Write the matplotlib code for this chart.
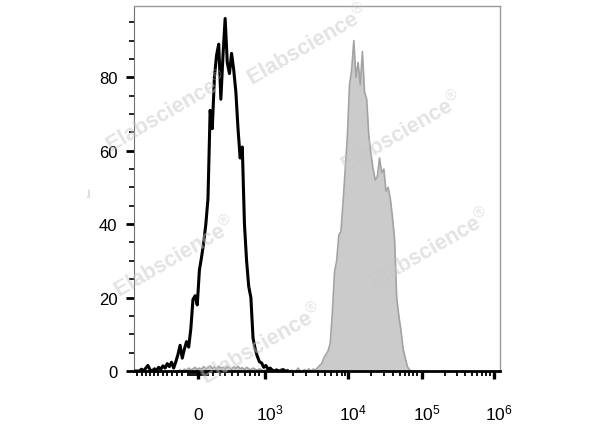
import numpy as np
import matplotlib
matplotlib.use("Agg")
import matplotlib.pyplot as plt
import matplotlib.transforms as mtransforms

plt.rcParams['font.family'] = ['Liberation Sans', 'DejaVu Sans']
plt.rcParams['mathtext.fontset'] = 'custom'
plt.rcParams['mathtext.rm'] = 'Liberation Sans'
plt.rcParams['mathtext.it'] = 'Liberation Sans:italic'
plt.rcParams['mathtext.bf'] = 'Liberation Sans:bold'

# display channels (0-1024) of the biexponential axis
bin_width = 6
iso_start = 0      # unstained / isotype control (black line)
iso_counts = [0, 0, 0, 0.5, 0, 0.8, 1.5, 0.3, 0, 0.6, 0.2, 1.0, 0.5, 1.4, 0.8,
              2.0, 1.2, 2.4, 0.8, 2.5, 4.5, 7.0, 3.5, 6.0, 8.0, 6.5, 11.5, 19.5,
              20.5, 18.0, 27.5, 31.0, 35.0, 40.0, 47.0, 71.0, 66.0, 80.0, 86.0,
              89.0, 74.0, 86.0, 96.0, 84.0, 81.0, 86.5, 82.0, 76.0, 66.0, 58.0,
              61.0, 40.0, 30.0, 23.0, 20.0, 9.0, 6.0, 4.0, 2.5, 2.2, 1.0, 1.5,
              0.5, 0.8, 0.2, 0, 0.3, 0, 0, 0.4, 0, 0]

stain_start = 120  # stained sample (grey filled)
stain_counts = [0, 0.3, 0, 0.5, 0.2, 0.8, 0.3, 0.6, 1.0, 0.4, 0.8, 0.5, 1.2, 0.6,
                0.9, 1.4, 0.7, 1.1, 0.5, 1.3, 0.8, 1.0, 0.6, 1.2, 0.9, 0.5, 1.1,
                0.7, 1.3, 0.6, 0.9, 0.4, 1.0, 0.6, 0.3, 0.8, 0.5, 0.2, 0.6, 0.3,
                0, 0.4, 0.2, 0, 0.5, 0, 0.3, 0, 0.6, 0, 0, 0.4, 0, 0.2, 0,
                0, 0.8, 0, 0, 0.4, 0, 0.6, 0, 0.5, 0.3, 0.8, 1.5, 2.0, 3.5, 4.5,
                5.5, 7.5, 16, 27, 30, 37, 38, 46, 55, 64, 78, 82, 90, 80, 84, 78,
                87, 76, 74, 64, 59, 55, 52, 53, 58, 54, 55, 49, 50, 47, 42, 36,
                20, 15, 11, 6, 3.5, 1.2, 0.3, 0, 0]

major_ch = [179, 367, 599, 806, 1007]
major_labels = ['0', r'$\mathregular{10^{3}}$', r'$\mathregular{10^{4}}$',
                r'$\mathregular{10^{5}}$', r'$\mathregular{10^{6}}$']
minor_ch = [9, 21.5, 33.6, 44.8, 56, 68, 80.3, 93.2, 105.5, 119.5, 133.5,
            151, 157, 162, 168, 173.5, 184.7, 190, 196, 201.5, 207,
            221, 240.6, 254.6, 274.2, 291.8, 310.6, 324.6, 338.6, 349.7,
            444, 481, 515.7, 534.4, 551.2, 567, 581, 590,
            663, 699.5, 725.5, 744, 758, 770, 781.3, 792.4,
            870, 903, 926, 946.6, 960.6, 972.9, 984, 996]

fig = plt.figure(figsize=(6, 4.27), dpi=100)
ax = fig.add_axes([134/600, 55/427, 366/600, 365/427])

# grey filled histogram
stain_x = stain_start + bin_width * (np.arange(len(stain_counts)) + 0.5)
ax.fill_between(stain_x, stain_counts, 0, color='#cbcbcb', lw=0, zorder=2)
ax.plot(stain_x, stain_counts, color='#a3a3a3', lw=1.2, zorder=3)

# black open histogram
iso_x = iso_start + bin_width * (np.arange(len(iso_counts)) + 0.5)
ax.plot(iso_x, iso_counts, color='black', lw=2.2, zorder=4)

ax.set_xlim(0, 1024)
ax.set_ylim(0, 99.4)

ax.set_yticks([0, 20, 40, 60, 80])
ax.set_yticks(np.arange(5, 100, 5), minor=True)
ax.tick_params(axis='y', which='major', length=5.5, width=2, pad=6.5, labelsize=12)
ax.tick_params(axis='y', which='minor', length=3.5, width=1.2)

ax.set_xticks(major_ch)
ax.set_xticklabels(major_labels, va='baseline')
ax.set_xticks(minor_ch, minor=True)
ax.tick_params(axis='x', which='major', length=6, width=2.4, pad=28.5, labelsize=12.5)
ax.tick_params(axis='x', which='minor', length=3.5, width=1.3)
shift = mtransforms.ScaledTranslation(5/100, 0, fig.dpi_scale_trans)
for lbl in ax.get_xticklabels()[1:]:
    lbl.set_transform(lbl.get_transform() + shift)

for side in ['top', 'right']:
    ax.spines[side].set_color('#9a9a9a')
    ax.spines[side].set_linewidth(1)
ax.spines['left'].set_color('#707070')
ax.spines['left'].set_linewidth(0.8)
ax.spines['bottom'].set_color('black')
ax.spines['bottom'].set_linewidth(2)
ax.spines['bottom'].set_zorder(5)

# watermarks
marks = [(308, 46), (167, 113), (402, 133), (175, 258), (430, 250), (262, 345)]
for mx, my in marks:
    fig.text(mx/600, 1 - my/427, r'Elabscience$^{\circledR}$', fontsize=15.5,
             fontweight='bold', color='#c8c8c8', alpha=0.5, rotation=30,
             ha='center', va='center', zorder=10)

fig.text(90/600, 1 - 192/427, 'Count', fontsize=2.5, color='#aaaaaa',
         rotation=90, ha='center', va='center')

fig.savefig('out.png', dpi=100)
